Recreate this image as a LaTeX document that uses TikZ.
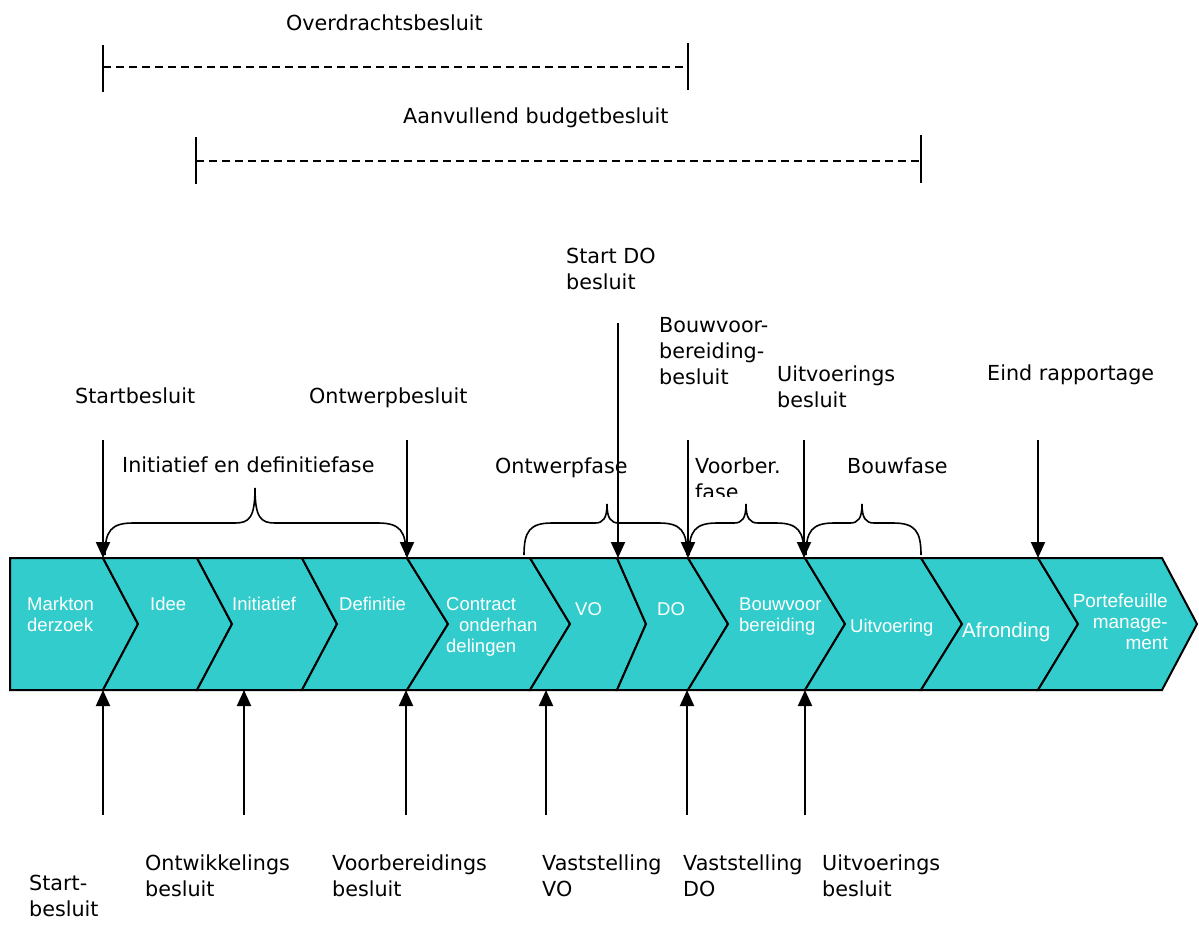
\documentclass[tikz,border=0pt]{standalone}
\usepackage{fontspec}
\setmainfont{DejaVu Sans}
\newfontfamily\cellfont{Liberation Sans}
\usetikzlibrary{arrows.meta}
\definecolor{phase}{HTML}{33CCCC}

\begin{document}
\begin{tikzpicture}[x=1pt, y=-1pt,
    lbl/.style={anchor=base west, inner sep=0pt, align=left,
        font=\fontsize{20.7}{26}\selectfont},
    cell/.style={anchor=base west, inner sep=0pt, align=left, text=white,
        font=\cellfont\fontsize{18.5}{21}\selectfont},
    decision/.style={-{Triangle[width=14pt,length=16pt]}, line width=2pt},
    span/.style={dashed, dash pattern=on 8pt off 5pt, line width=1.5pt}
]

\useasboundingbox (0,0) rectangle (1199,924);

% --- MACRO: CHEVRON CELL ---
% #1: left edge x
% #2: left notch x
% #3: right edge x
% #4: right tip x
\newcommand{\drawCell}[4]{
    \filldraw[fill=phase, line width=2pt, line join=miter]
        (#1,558) -- (#3,558) -- (#4,624) -- (#3,690) -- (#1,690) -- (#2,624) -- cycle;
}

% --- MACRO: PHASE BRACE ---
% #1: left x, #2: right x
% #3: tip x, #4: tip y, #5: half width of the tip
\newcommand{\drawBrace}[5]{
    \draw[line width=1.6pt]
        (#1,555) .. controls (#1,531) and (#1+6,523) .. (#1+28,523)
        -- (#3-#5,523) .. controls (#3-#5*0.3,523) and (#3,518) .. (#3,#4)
        .. controls (#3,518) and (#3+#5*0.3,523) .. (#3+#5,523)
        -- (#2-28,523) .. controls (#2-6,523) and (#2,531) .. (#2,555);
}

% --- PROCESS BAND ---
\foreach \a/\n/\b/\t in {10/10/103/138, 103/138/197/232, 197/232/302/337,
        302/337/407/448, 407/448/530/570, 530/570/617/646, 617/646/688/728,
        688/728/805/845, 805/845/921/962, 921/962/1038/1078, 1038/1078/1162/1197}
    \drawCell{\a}{\n}{\b}{\t};

% (multi-line nodes sit on the baseline of their last line)
\node[cell] (markt) at (27,631) {Markton\\derzoek};
\node[cell] (idee) at (150,610) {Idee};
\node[cell] (initiatief) at (232,610) {Initiatief};
\node[cell] (definitie) at (339,610) {Definitie};
\node[cell] (contract) at (446,652) {Contract\\\hspace{13pt}onderhan\\delingen};
\node[cell] (vo) at (575,615) {VO};
\node[cell] (do) at (657,615) {DO};
\node[cell] (bouwvb) at (739,631) {Bouwvoor\\bereiding};
\node[cell] (uitvoering) at (850,632) {Uitvoering};
\node[cell, font=\cellfont\fontsize{20.6}{24}\selectfont] (afronding) at (962,637) {Afronding};
\node[cell, anchor=base east, align=right, font=\cellfont\fontsize{19}{21}\selectfont]
    (portefeuille) at (1168,649) {Portefeuille\\manage-\\ment};

% --- OVERALL DECISIONS ---
\node[lbl] (overdracht) at (286,30) {Overdrachtsbesluit};
\coordinate (ovL) at (103,67);
\coordinate (ovR) at (688,67);
\draw[line width=1.5pt] (103,45) -- (103,92);
\draw[line width=1.5pt] (688,43) -- (688,90);
\draw[span] (ovL) -- (ovR);

\node[lbl] (aanvullend) at (403,123) {Aanvullend budgetbesluit};
\coordinate (avL) at (196,161);
\coordinate (avR) at (921,161);
\draw[line width=1.5pt] (196,137) -- (196,184);
\draw[line width=1.5pt] (921,135) -- (921,183);
\draw[span] (avL) -- (avR);

% --- PHASES ---
\drawBrace{105}{406}{255}{488}{20}
\drawBrace{524}{687}{607}{504}{12}
\drawBrace{689}{804}{746}{504}{12}
\drawBrace{806}{921}{862}{504}{12}

\node[lbl] (initfase) at (122,472) {Initiatief en definitiefase};
\node[lbl] (ontwfase) at (495,473) {Ontwerpfase};
\begin{scope}
    \clip (690,440) rectangle (800,496);
    \node[lbl] (voorbfase) at (695,499) {Voorber.\\fase};
\end{scope}
\node[lbl] (bouwfase) at (847,473) {Bouwfase};

% --- DECISIONS ABOVE ---
\node[lbl] (startT) at (75,403) {Startbesluit};
\node[lbl] (ontwerpT) at (309,403) {Ontwerpbesluit};
\node[lbl] (startdoT) at (566,289) {Start DO\\besluit};
\node[lbl] (bouwT) at (659,384) {Bouwvoor-\\bereiding-\\besluit};
\node[lbl] (uitvT) at (777,407) {Uitvoerings\\besluit};
\node[lbl] (eindT) at (987,380) {Eind rapportage};

\foreach \nm/\x/\y in {startT/103/440, ontwerpT/407/440, startdoT/618/323,
        bouwT/688/440, uitvT/804/440, eindT/1038/440} {
    \coordinate (\nm-from) at (\x,\y);
    \coordinate (\nm-to) at (\x,558);
    \draw[decision] (\nm-from) -- (\nm-to);
}

% --- DECISIONS BELOW ---
\node[lbl] (startB) at (29,916) {Start-\\besluit};
\node[lbl] (ontwikB) at (145,896) {Ontwikkelings\\besluit};
\node[lbl] (voorbB) at (332,896) {Voorbereidings\\besluit};
\node[lbl] (vastvoB) at (542,896) {Vaststelling\\VO};
\node[lbl] (vastdoB) at (683,896) {Vaststelling\\DO};
\node[lbl] (uitvB) at (822,896) {Uitvoerings\\besluit};

\foreach \nm/\x in {startB/103, ontwikB/244, voorbB/406, vastvoB/546,
        vastdoB/687, uitvB/805} {
    \coordinate (\nm-from) at (\x,815);
    \coordinate (\nm-to) at (\x,690);
    \draw[decision] (\nm-from) -- (\nm-to);
}

\end{tikzpicture}
\end{document}
